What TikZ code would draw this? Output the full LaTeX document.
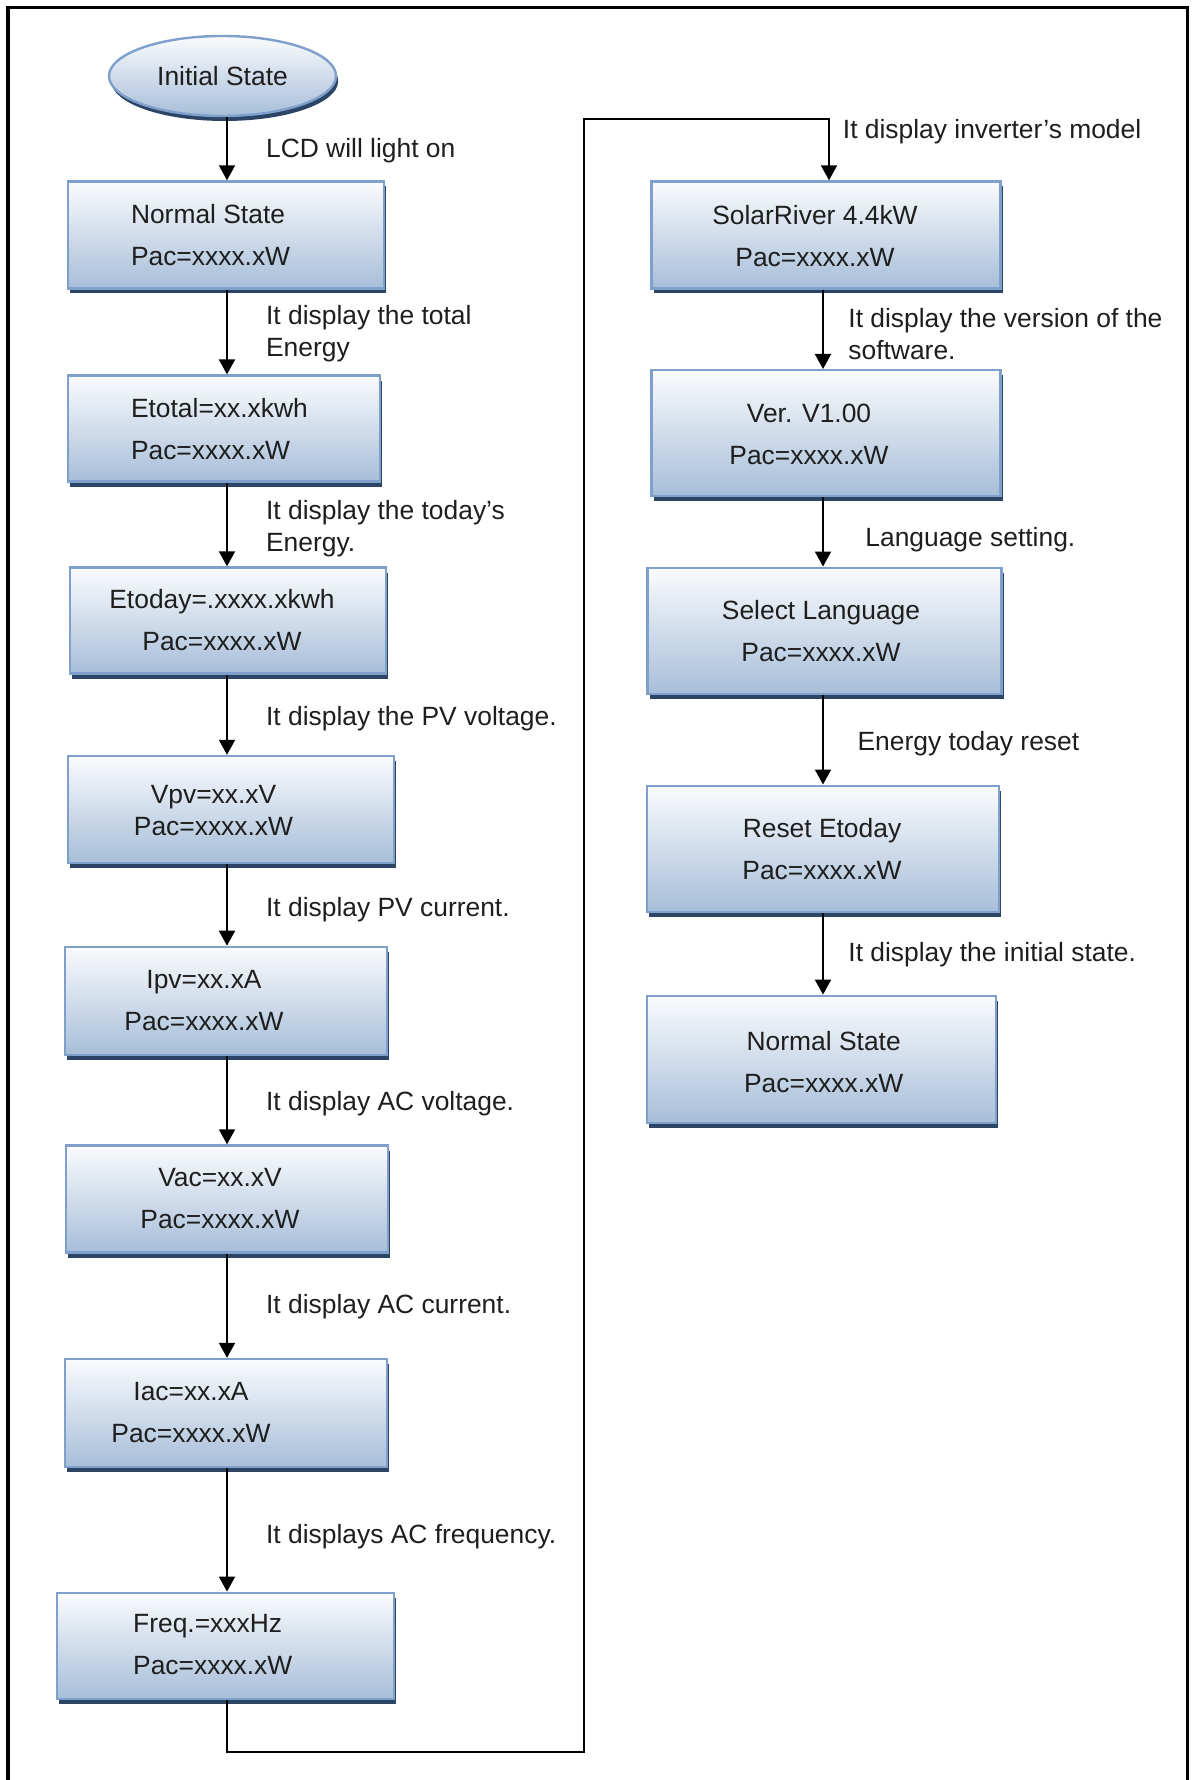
\documentclass[tikz,border=0pt]{standalone}
\usepackage{fontspec}
\setmainfont{Liberation Sans}
\usetikzlibrary{shapes.geometric, arrows.meta, positioning, calc, shadows}
\definecolor{boxedge}{RGB}{126,160,203}
\definecolor{boxtop}{RGB}{250,251,253}
\definecolor{boxbot}{RGB}{167,190,217}
\definecolor{boxshade}{RGB}{44,69,102}
\definecolor{ink}{RGB}{30,30,30}

\begin{document}
\begin{tikzpicture}[
  x=0.5pt, y=-0.5pt,
  sbox/.style={draw=boxedge, line width=1.2pt, top color=boxtop, bottom color=boxbot, inner sep=0pt,
    drop shadow={shadow xshift=1.1pt, shadow yshift=-2.5pt, fill=boxshade, opacity=1},
    font=\fontsize{13.2}{21}\selectfont, text=ink},
  stxt/.style={font=\fontsize{13.2}{21}\selectfont, align=center, inner sep=0pt, text=ink},
  note/.style={font=\fontsize{13.2}{15.9}\selectfont, align=left, anchor=west, inner sep=0pt, text=ink},
  arr/.style={line width=1pt, -{Triangle[length=7.5pt, width=8pt]}}
]
  \useasboundingbox (0,0) rectangle (1191,1780);
  \draw[line width=1.8pt] (7.7,1800) -- (7.7,7.5) -- (1187.5,7.5) -- (1187.5,1800);

  % left column
  \node[sbox, ellipse, minimum width=113.5pt, minimum height=40pt] (init) at (222.5,76) {Initial State};
  \node[sbox, minimum width=158pt, minimum height=53.5pt] (ns1) at (226,235) {};
  \node[sbox, minimum width=156pt, minimum height=53pt] (etot) at (224.2,428.6) {};
  \node[sbox, minimum width=158pt, minimum height=53pt] (etod) at (228.2,620.5) {};
  \node[sbox, minimum width=163pt, minimum height=53.5pt] (vpv) at (231,809.5) {};
  \node[sbox, minimum width=161pt, minimum height=54pt] (ipv) at (226,1000.9) {};
  \node[sbox, minimum width=161pt, minimum height=53.5pt] (vac) at (227,1199) {};
  \node[sbox, minimum width=161pt, minimum height=54pt] (iac) at (226,1413) {};
  \node[sbox, minimum width=168.5pt, minimum height=53pt] (fq) at (225.4,1645.8) {};

  \node[stxt, anchor=west, align=left] (t-ns1) at (130.6,235) {Normal State\\Pac=xxxx.xW};
  \node[stxt, anchor=west, align=left] (t-etot) at (130.6,428.6) {Etotal=xx.xkwh\\Pac=xxxx.xW};
  \node[stxt] (t-etod) at (222,620.5) {Etoday=.xxxx.xkwh\\Pac=xxxx.xW};
  \node[stxt, font=\fontsize{13.2}{15.9}\selectfont] (t-vpv) at (213.5,810.7) {Vpv=xx.xV\\Pac=xxxx.xW};
  \node[stxt] (t-ipv) at (204,1001) {Ipv=xx.xA\\Pac=xxxx.xW};
  \node[stxt] (t-vac) at (220,1198.4) {Vac=xx.xV\\Pac=xxxx.xW};
  \node[stxt] (t-iac) at (191,1413) {Iac=xx.xA\\Pac=xxxx.xW};
  \node[stxt, anchor=west, align=left] (t-fq) at (132.8,1644.6) {Freq.=xxxHz\\Pac=xxxx.xW};

  % right column
  \node[sbox, minimum width=174.5pt, minimum height=53.5pt] (solar) at (826,235) {};
  \node[sbox, minimum width=174.5pt, minimum height=63pt] (ver) at (826,433.2) {};
  \node[sbox, minimum width=177pt, minimum height=63pt] (sel) at (824.3,630.7) {};
  \node[sbox, minimum width=176pt, minimum height=63pt] (rst) at (823.2,848.7) {};
  \node[sbox, minimum width=174.5pt, minimum height=63.5pt] (ns2) at (821.5,1059.3) {};

  \node[stxt] (t-solar) at (815,235.6) {SolarRiver 4.4kW\\Pac=xxxx.xW};
  \node[stxt] (t-ver) at (809,434.3) {Ver. V1.00\\Pac=xxxx.xW};
  \node[stxt] (t-sel) at (821,631.3) {Select Language\\Pac=xxxx.xW};
  \node[stxt] (t-rst) at (822,848.7) {Reset Etoday\\Pac=xxxx.xW};
  \node[stxt] (t-ns2) at (823.7,1061.6) {Normal State\\Pac=xxxx.xW};

  % notes beside the arrows
  \node[note] (l-lcd) at (265.7,151) {LCD will light on};
  \node[note] (l-etot) at (265.7,334) {It display the total\\Energy};
  \node[note] (l-etod) at (265.7,529) {It display the today’s\\Energy.};
  \node[note] (l-vpv) at (265.7,718.7) {It display the PV voltage.};
  \node[note] (l-ipv) at (265.7,909.5) {It display PV current.};
  \node[note] (l-vac) at (265.7,1103.6) {It display AC voltage.};
  \node[note] (l-iac) at (265.7,1306.8) {It display AC current.};
  \node[note] (l-fq) at (265.7,1536.2) {It displays AC frequency.};
  \node[note] (r-model) at (842.5,131.7) {It display inverter’s model};
  \node[note] (r-ver) at (848,334) {It display the version of the\\software.};
  \node[note] (r-lang) at (865,539.3) {Language setting.};
  \node[note] (r-reset) at (857.2,743.7) {Energy today reset};
  \node[note] (r-init) at (848,954.9) {It display the initial state.};

  % connectors
  \coordinate (ax) at (227,0);
  \coordinate (rx) at (823,0);
  \coordinate (lb) at (583.6,1752);
  \coordinate (lt) at (583.6,119.2);
  \draw[arr] (init.south -| ax) -- (ns1.north -| ax);
  \draw[arr] (ns1.south -| ax) -- (etot.north -| ax);
  \draw[arr] (etot.south -| ax) -- (etod.north -| ax);
  \draw[arr] (etod.south -| ax) -- (vpv.north -| ax);
  \draw[arr] (vpv.south -| ax) -- (ipv.north -| ax);
  \draw[arr] (ipv.south -| ax) -- (vac.north -| ax);
  \draw[arr] (vac.south -| ax) -- (iac.north -| ax);
  \draw[arr] (iac.south -| ax) -- (fq.north -| ax);
  \draw[arr] (fq.south -| ax) |- (lb) -- (lt) -| ($(solar.north)+(3,0)$);
  \draw[arr] (solar.south -| rx) -- (ver.north -| rx);
  \draw[arr] (ver.south -| rx) -- (sel.north -| rx);
  \draw[arr] (sel.south -| rx) -- (rst.north -| rx);
  \draw[arr] (rst.south -| rx) -- (ns2.north -| rx);
\end{tikzpicture}
\end{document}
